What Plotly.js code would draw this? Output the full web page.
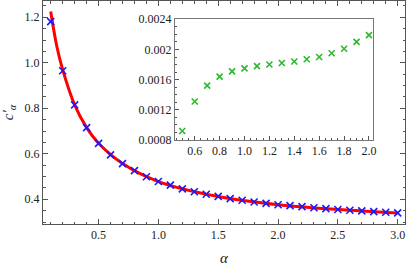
<!DOCTYPE html>
<html>
<head>
<meta charset="utf-8">
<script src="https://cdn.plot.ly/plotly-3.0.1.min.js"></script>
<style>html,body{margin:0;padding:0;background:#fff;}#chart{width:407px;height:266px;}</style>
</head>
<body>
<div id="chart"></div>
<script>
// Main plot: sampled points
var alpha = [0.1,0.2,0.3,0.4,0.5,0.6,0.7,0.8,0.9,1.0,1.1,1.2,1.3,1.4,1.5,1.6,1.7,1.8,1.9,2.0,2.1,2.2,2.3,2.4,2.5,2.6,2.7,2.8,2.9,3.0];
var cPoints = [1.181,0.965,0.815,0.715,0.646,0.595,0.557,0.526,0.499,0.478,0.462,0.446,0.433,0.422,0.413,0.403,0.396,0.388,0.382,0.376,0.372,0.368,0.363,0.359,0.355,0.352,0.349,0.346,0.343,0.340];
// Main plot: red fitted curve
var curveAlpha = [0.1,0.15,0.2,0.3,0.4,0.5,0.7,1.0,1.5,2.0,2.5,3.0];
var curveC = [1.225,1.075,0.97,0.815,0.715,0.646,0.557,0.478,0.412,0.376,0.355,0.340];
// Inset
var insetAlpha = [0.5,0.6,0.7,0.8,0.9,1.0,1.1,1.2,1.3,1.4,1.5,1.6,1.7,1.8,1.9,2.0];
var insetC = [0.00092,0.00131,0.00152,0.00164,0.00171,0.00175,0.00178,0.00180,0.00182,0.00184,0.00187,0.00190,0.00195,0.00201,0.00210,0.00219];
var mainXTicks = [0.5,1.0,1.5,2.0,2.5,3.0];
var mainXLabels = ["0.5","1.0","1.5","2.0","2.5","3.0"];
var mainYTicks = [0.4,0.6,0.8,1.0,1.2];
var mainYLabels = ["0.4","0.6","0.8","1.0","1.2"];
var insetXTicks = [0.6,0.8,1.0,1.2,1.4,1.6,1.8,2.0];
var insetXLabels = ["0.6","0.8","1.0","1.2","1.4","1.6","1.8","2.0"];
var insetYTicks = [0.0008,0.0012,0.0016,0.0020,0.0024];
var insetYLabels = ["0.0008","0.0012","0.0016","0.002","0.0024"];

var fam = "Times New Roman, Liberation Serif, DejaVu Serif, serif";
var frameColor = "#555";

function f(size) { return {family: fam, size: size, color: "#222"}; }

var traces = [
  {x: curveAlpha, y: curveC, mode: "lines", line: {color: "#ff0000", width: 3, shape: "spline"}, xaxis: "x", yaxis: "y", hoverinfo: "skip"},
  {x: alpha, y: cPoints, mode: "markers", marker: {symbol: "x-thin", size: 7, line: {color: "#1a1aff", width: 1.6}, color: "#1a1aff"}, xaxis: "x", yaxis: "y"},
  {x: insetAlpha, y: insetC, mode: "markers", marker: {symbol: "x-thin", size: 6, line: {color: "#2db82d", width: 1.6}, color: "#2db82d"}, xaxis: "x2", yaxis: "y2"}
];

var layout = {
  width: 407, height: 266,
  margin: {l: 43, r: 2, t: 1, b: 42},
  paper_bgcolor: "#fff", plot_bgcolor: "#fff",
  showlegend: false,
  font: f(12),
  xaxis: {
    domain: [0, 1], range: [0.0356, 3.061],
    tickvals: mainXTicks, ticktext: mainXLabels,
    ticks: "inside", ticklen: 5, tickwidth: 1, tickcolor: frameColor,
    minor: {dtick: 0.1, tick0: 0, ticks: "inside", ticklen: 2.5, tickcolor: frameColor, showgrid: false},
    showline: true, linecolor: frameColor, linewidth: 1, mirror: "ticks",
    showgrid: false, zeroline: false, tickfont: f(12),
    title: {text: "<i>α</i>", font: f(15), standoff: 12}
  },
  yaxis: {
    domain: [0, 1], range: [0.2914, 1.2716],
    tickvals: mainYTicks, ticktext: mainYLabels,
    ticks: "inside", ticklen: 5, tickwidth: 1, tickcolor: frameColor,
    minor: {dtick: 0.05, tick0: 0, ticks: "inside", ticklen: 2.5, tickcolor: frameColor, showgrid: false},
    showline: true, linecolor: frameColor, linewidth: 1, mirror: "ticks",
    showgrid: false, zeroline: false, tickfont: f(12),
    title: {text: "<i>c′<sub>α</sub></i>", font: f(15), standoff: 8}
  },
  xaxis2: {
    domain: [0.3646, 0.9124], range: [0.4414, 2.0347], anchor: "y2",
    tickvals: insetXTicks, ticktext: insetXLabels,
    ticks: "inside", ticklen: 4, tickwidth: 1, tickcolor: frameColor,
    minor: {dtick: 0.05, tick0: 0, ticks: "inside", ticklen: 2, tickcolor: frameColor, showgrid: false},
    showline: true, linecolor: "#777", linewidth: 1, mirror: true,
    showgrid: false, zeroline: false, tickfont: f(12)
  },
  yaxis2: {
    domain: [0.3767, 0.918], range: [0.0008, 0.0024], anchor: "x2",
    tickvals: insetYTicks, ticktext: insetYLabels,
    ticks: "inside", ticklen: 4, tickwidth: 1, tickcolor: frameColor,
    minor: {dtick: 0.0001, tick0: 0, ticks: "inside", ticklen: 2, tickcolor: frameColor, showgrid: false},
    showline: true, linecolor: "#777", linewidth: 1, mirror: true,
    showgrid: false, zeroline: false, tickfont: f(12)
  }
};

Plotly.newPlot("chart", traces, layout, {staticPlot: true, displayModeBar: false});
</script>
</body>
</html>
